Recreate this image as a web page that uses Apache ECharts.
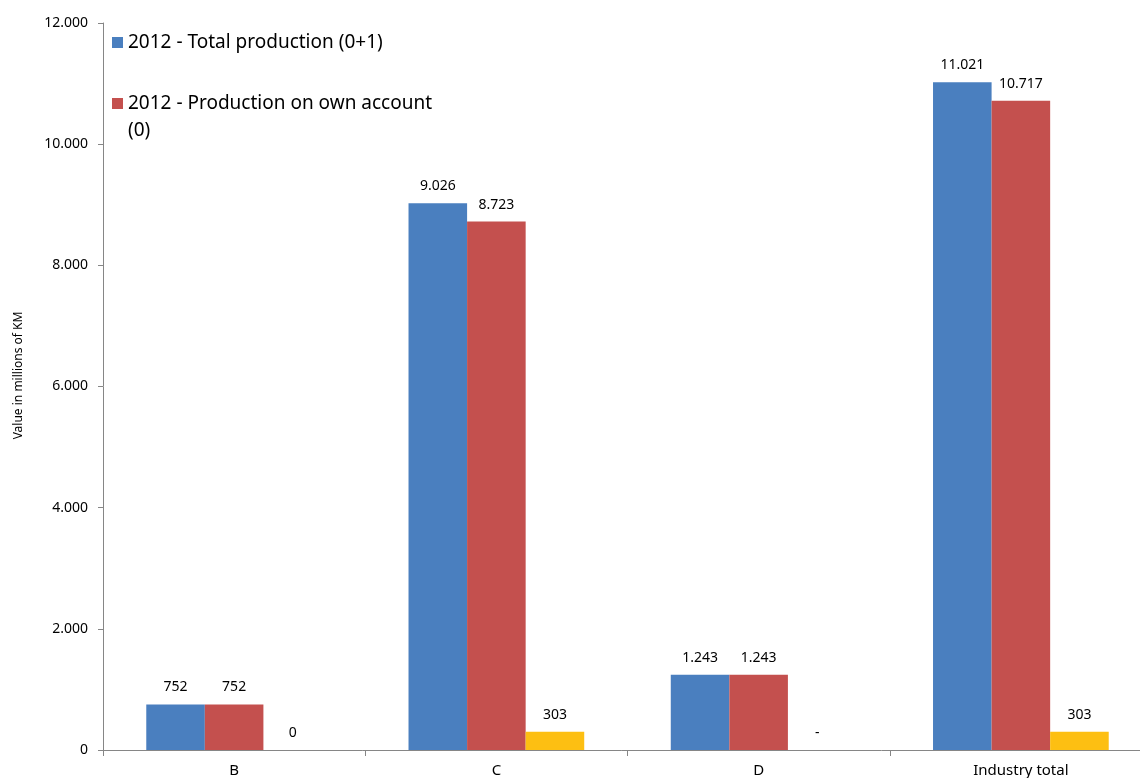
<!DOCTYPE html>
<html>
<head>
<meta charset="utf-8">
<script src="https://cdn.jsdelivr.net/npm/echarts@6/dist/echarts.min.js"></script>
<style>html,body{margin:0;padding:0;background:#fff;}#c{width:1140px;height:778px;}</style>
</head>
<body>
<div id="c"></div>
<script>
const categories = ['B', 'C', 'D', 'Industry total'];
const totalProduction = [752, 9026, 1243, 11021];
const ownAccount = [752, 8723, 1243, 10717];
const forOthers = [0.3, 303, 0, 303];
const seriesNames = ['2012 - Total production (0+1)', '2012 - Production on own account (0)', '2012 - Production for others (1)'];
const yTicks = { min: 0, max: 12000, interval: 2000 };

function fmt(v) {
  const n = Math.round(v);
  return String(n).replace(/\B(?=(\d{3})+(?!\d))/g, '.');
}
const FONT = 'Noto Sans';
const chart = echarts.init(document.getElementById('c'));
const labelCfg = {
  show: true, position: 'top', distance: 10, color: '#000', fontSize: 14, fontFamily: FONT,
  formatter: p => (p.value === 0 ? '-' : fmt(p.value))
};
chart.setOption({
  animation: false,
  textStyle: { fontFamily: FONT },
  grid: { left: 103, right: -12, top: 23, bottom: 28, containLabel: false, outerBoundsMode: 'none' },
  legend: {
    orient: 'vertical', left: 112, top: 29, padding: 0, itemWidth: 11, itemHeight: 11, itemGap: 7,
    icon: 'rect',
    textStyle: { fontSize: 19, color: '#000', fontFamily: FONT, lineHeight: 27 },
    data: [ seriesNames[0], seriesNames[1] ],
    formatter: name => name === seriesNames[1] ? '\n2012 - Production on own account\n(0)' : name
  },
  xAxis: {
    type: 'category', data: categories,
    axisLine: { lineStyle: { color: '#868686' } },
    axisTick: { show: true, length: 6, lineStyle: { color: '#868686' } },
    axisLabel: { color: '#000', fontSize: 15, margin: 13, fontFamily: FONT }
  },
  yAxis: {
    type: 'value', min: yTicks.min, max: yTicks.max, interval: yTicks.interval,
    name: 'Value in millions of KM', nameLocation: 'middle', nameGap: 78, nameRotate: 90,
    nameTextStyle: { color: '#000', fontSize: 12, fontFamily: FONT, padding: [0, 0, 0, 22] },
    axisLine: { show: true, lineStyle: { color: '#868686' } },
    axisTick: { show: true, length: 5, lineStyle: { color: '#868686' } },
    splitLine: { show: false },
    axisLabel: { color: '#000', fontSize: 14, margin: 15, fontFamily: FONT, formatter: v => fmt(v) }
  },
  series: [
    { name: seriesNames[0], type: 'bar', data: totalProduction, barGap: '0%', barCategoryGap: '33%',
      itemStyle: { color: '#4a7fbf' }, label: labelCfg },
    { name: seriesNames[1], type: 'bar', data: ownAccount,
      itemStyle: { color: '#c4504e' }, label: labelCfg },
    { name: seriesNames[2], type: 'bar', data: forOthers,
      itemStyle: { color: '#fdbf12' }, label: labelCfg }
  ]
});
</script>
</body>
</html>
